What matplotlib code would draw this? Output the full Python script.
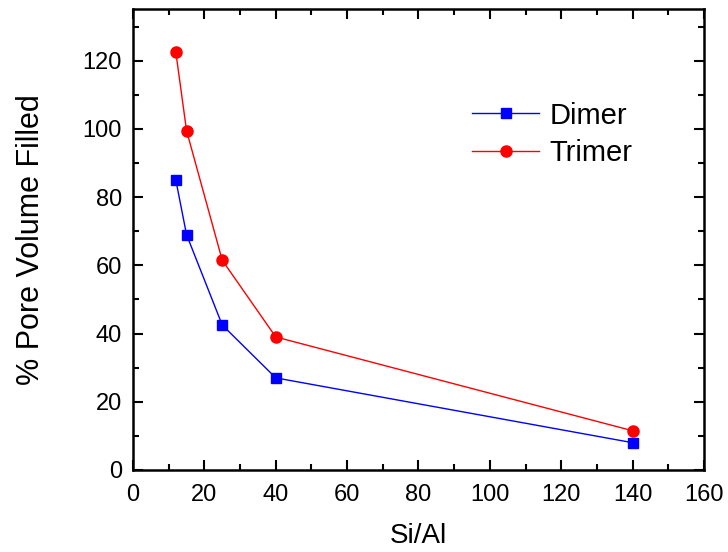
import matplotlib.pyplot as plt
from matplotlib.ticker import MultipleLocator

plt.rcParams['font.family'] = ['Liberation Sans', 'DejaVu Sans']

# Si/Al ratios and loading for each oligomer
si_al = [12, 15, 25, 40, 140]
dimer = [85, 69, 42.5, 27, 8]
trimer = [122.5, 99.5, 61.5, 39, 11.5]

fig = plt.figure(figsize=(7.28, 5.52), dpi=100)
ax = fig.add_axes([0.1827, 0.1486, 0.7843, 0.8342])

ax.plot(si_al, dimer, color='blue', marker='s', markersize=6.5, linewidth=1, label='Dimer')
ax.plot(si_al, trimer, color='red', marker='o', markersize=8, linewidth=1, label='Trimer')

ax.set_xlim(0, 160)
ax.set_ylim(0, 135)
ax.xaxis.set_major_locator(MultipleLocator(20))
ax.xaxis.set_minor_locator(MultipleLocator(10))
ax.yaxis.set_major_locator(MultipleLocator(20))
ax.yaxis.set_minor_locator(MultipleLocator(10))

# inward ticks on every side, labels only bottom/left
ax.tick_params(which='both', direction='in', top=True, right=True, width=1.5)
ax.tick_params(which='major', length=7, labelsize=17, pad=8)
ax.tick_params(axis='x', which='major', pad=10)
ax.tick_params(which='minor', length=4)
for s in ax.spines.values():
    s.set_linewidth(1.8)

ax.set_xlabel('Si/Al', fontsize=20, labelpad=12)
ax.set_ylabel('% Pore Volume Filled', fontsize=22, labelpad=26)

ax.legend(loc='upper left', bbox_to_anchor=(0.548, 0.857), frameon=False, fontsize=21,
          handlelength=2.3, handletextpad=0.35, labelspacing=0.33)

fig.savefig('out.png', dpi=100)
